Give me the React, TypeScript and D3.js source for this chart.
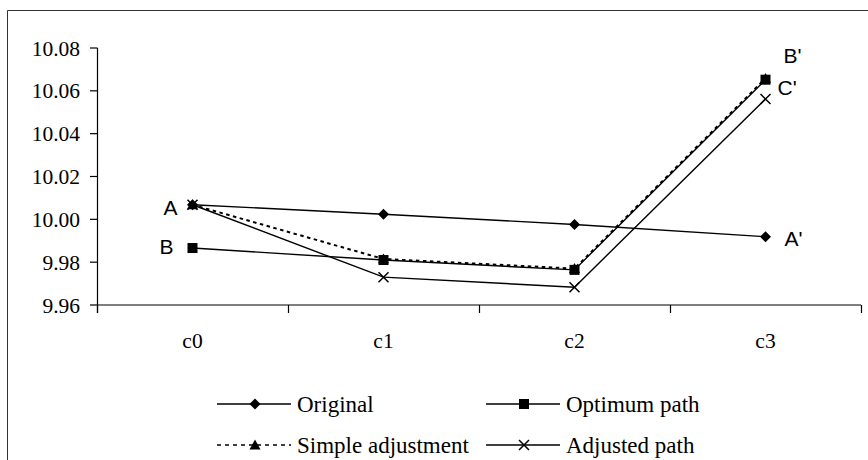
import React from "react";
import * as d3 from "d3";

const categories = ["c0", "c1", "c2", "c3"];
const yTicks = [9.96, 9.98, 10.0, 10.02, 10.04, 10.06, 10.08];
const original = [10.0068, 10.0024, 9.9976, 9.9919];
const optimum = [9.9866, 9.981, 9.9764, 10.0652];
const simple = [10.0068, 9.9815, 9.977, 10.0658];
const adjusted = [10.0068, 9.973, 9.9683, 10.0562];
const seriesNames = ["Original", "Optimum path", "Simple adjustment", "Adjusted path"];

const W = 868;
const H = 460;
const serif = "'Liberation Serif', 'Times New Roman', serif";
const sans = "'Liberation Sans', Arial, sans-serif";

function Marker({ kind, x, y }: { kind: string; x: number; y: number }) {
  if (kind === "diamond") {
    const r = 5.5;
    return <path d={`M${x},${y - r}L${x + r},${y}L${x},${y + r}L${x - r},${y}Z`} fill="#000" />;
  }
  if (kind === "square") {
    const r = 5;
    return <rect x={x - r} y={y - r} width={2 * r} height={2 * r} fill="#000" />;
  }
  if (kind === "triangle") {
    const r = 5.5;
    return <path d={`M${x},${y - r}L${x + r},${y + r * 0.8}L${x - r},${y + r * 0.8}Z`} fill="#000" />;
  }
  const r = 5;
  return (
    <path
      d={`M${x - r},${y - r}L${x + r},${y + r}M${x - r},${y + r}L${x + r},${y - r}`}
      stroke="#000"
      strokeWidth={1.5}
      fill="none"
    />
  );
}

export default function App() {
  const x = d3.scaleBand().domain(categories).range([97, 861]).padding(0);
  const y = d3.scaleLinear().domain([9.96, 10.08]).range([305, 48]);
  const cx = (c: string) => (x(c) as number) + x.bandwidth() / 2;
  const line = d3
    .line<number>()
    .x((_, i) => cx(categories[i]))
    .y((d) => y(d));

  const series = [
    { name: seriesNames[0], data: original, marker: "diamond", dash: "" },
    { name: seriesNames[1], data: optimum, marker: "square", dash: "" },
    { name: seriesNames[2], data: simple, marker: "triangle", dash: "3.5,3.5" },
    { name: seriesNames[3], data: adjusted, marker: "x", dash: "" },
  ];
  const drawOrder = [0, 2, 1, 3];

  const legendPos = [
    { lx: 217, ly: 404 },
    { lx: 486, ly: 404 },
    { lx: 217, ly: 445 },
    { lx: 486, ly: 445 },
  ];

  const boundaries = categories.map((c) => x(c) as number).concat([861]);

  return (
    <svg width={W} height={H} style={{ position: "absolute", left: 0, top: 0, background: "#fff" }}>
      <rect x={0} y={0} width={W} height={H} fill="#fff" />
      {/* outer frame */}
      <path d={`M7.5,${H}V10.5H${W}`} fill="none" stroke="#333" strokeWidth={1} />

      {/* y axis */}
      <line x1={97.5} x2={97.5} y1={y(10.08)} y2={313} stroke="#000" strokeWidth={1.2} />
      {yTicks.map((t) => (
        <g key={t}>
          <line x1={90} x2={97.5} y1={y(t)} y2={y(t)} stroke="#000" strokeWidth={1.2} />
          <text
            x={80}
            y={y(t)}
            dy="0.35em"
            textAnchor="end"
            fontFamily={serif}
            fontSize={21.5}
            fill="#000"
          >
            {t.toFixed(2)}
          </text>
        </g>
      ))}

      {/* x axis */}
      <line x1={97} x2={861} y1={305} y2={305} stroke="#000" strokeWidth={1.2} />
      {boundaries.map((b, i) => (
        <line key={i} x1={b + 0.5} x2={b + 0.5} y1={305} y2={313} stroke="#000" strokeWidth={1.2} />
      ))}
      {categories.map((c) => (
        <text key={c} x={cx(c)} y={348} textAnchor="middle" fontFamily={serif} fontSize={21.5} fill="#000">
          {c}
        </text>
      ))}

      {/* lines */}
      {drawOrder.map((si) => {
        const s = series[si];
        return (
          <path
            key={s.name}
            d={line(s.data) || ""}
            fill="none"
            stroke="#000"
            strokeWidth={s.dash ? 2 : 1.4}
            strokeDasharray={s.dash || undefined}
          />
        );
      })}
      {drawOrder.map((si) => {
        const s = series[si];
        return (
          <g key={s.name + "m"}>
            {s.data.map((v, i) => (
              <Marker key={i} kind={s.marker} x={cx(categories[i])} y={y(v)} />
            ))}
          </g>
        );
      })}

      {/* point labels */}
      <text x={cx("c0") - 29} y={y(original[0]) + 10} fontFamily={sans} fontSize={21} fill="#000">A</text>
      <text x={cx("c0") - 33} y={y(optimum[0]) + 6} fontFamily={sans} fontSize={21} fill="#000">B</text>
      <text x={cx("c3") + 19} y={y(original[3]) + 9} fontFamily={sans} fontSize={21} fill="#000">A'</text>
      <text x={cx("c3") + 18} y={y(optimum[3]) - 17} fontFamily={sans} fontSize={21} fill="#000">B'</text>
      <text x={cx("c3") + 12} y={y(adjusted[3]) - 4} fontFamily={sans} fontSize={21} fill="#000">C'</text>

      {/* legend */}
      {series.map((s, i) => {
        const p = legendPos[i];
        return (
          <g key={s.name + "l"}>
            <line
              x1={p.lx}
              x2={p.lx + 74}
              y1={p.ly}
              y2={p.ly}
              stroke="#000"
              strokeWidth={s.dash ? 1.5 : 1.4}
              strokeDasharray={s.dash ? "4,4" : undefined}
            />
            <Marker kind={s.marker} x={p.lx + 38} y={p.ly} />
            <text x={p.lx + 80} y={p.ly} dy="0.35em" fontFamily={serif} fontSize={23} fill="#000">
              {s.name}
            </text>
          </g>
        );
      })}
    </svg>
  );
}
